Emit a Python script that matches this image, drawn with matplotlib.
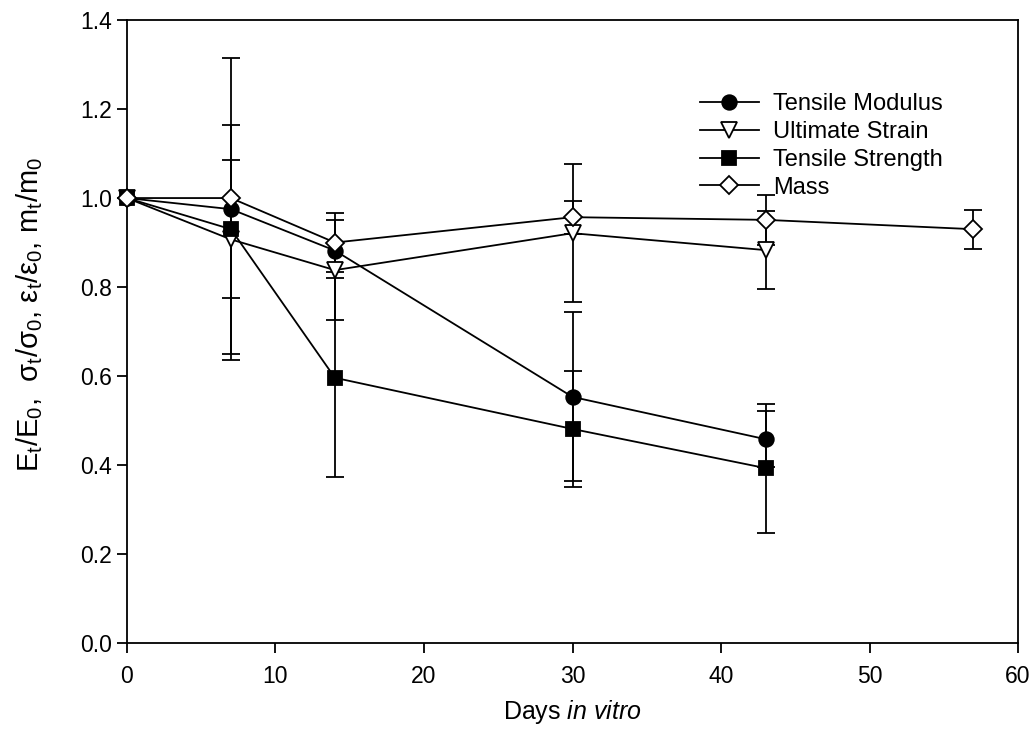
import numpy as np
import matplotlib
matplotlib.use('Agg')
import matplotlib.pyplot as plt

plt.rcParams['font.family'] = ['Liberation Sans', 'DejaVu Sans']
plt.rcParams['mathtext.fontset'] = 'custom'
plt.rcParams['mathtext.rm'] = 'Liberation Sans'
plt.rcParams['mathtext.it'] = 'Liberation Sans:italic'
plt.rcParams['mathtext.default'] = 'regular'

# data
days = [0, 7, 14, 30, 43]
days_mass = [0, 7, 14, 30, 43, 57]

modulus = [1.0, 0.975, 0.882, 0.553, 0.458]
modulus_err = [0.0, 0.34, 0.0, 0.19, 0.063]

strain = [1.0, 0.907, 0.838, 0.921, 0.883]
strain_err = [0.0, 0.257, 0.112, 0.155, 0.087]

strength = [1.0, 0.93, 0.596, 0.481, 0.393]
strength_err = [0.0, 0.155, 0.224, 0.13, 0.145]

mass = [1.0, 1.0, 0.90, 0.957, 0.951, 0.930]
mass_err = [0.0, 0.0, 0.067, 0.037, 0.056, 0.044]

fig = plt.figure(figsize=(10.35, 7.44), dpi=100)
ax = fig.add_axes([0.1227, 0.1358, 0.8609, 0.8372])

series = [
    (days, modulus, modulus_err, 'o', 10.5, 'black', 'Tensile Modulus'),
    (days, strain, strain_err, 'v', 11, 'white', 'Ultimate Strain'),
    (days, strength, strength_err, 's', 10, 'black', 'Tensile Strength'),
    (days_mass, mass, mass_err, 'D', 9.5, 'white', 'Mass'),
]

handles = []
for i, (x, y, e, m, ms, fc, lab) in enumerate(series):
    x = np.array(x)
    y = np.array(y)
    e = np.array(e)
    k = e > 0
    ax.errorbar(x[k], y[k], yerr=e[k], fmt='none', ecolor='black',
                elinewidth=1.3, capsize=6.5, capthick=1.3, zorder=2)
    h, = ax.plot(x, y, color='black', lw=1.3, marker=m, ms=ms, mfc=fc,
                 mec='black', mew=1.3, label=lab, zorder=3 + i, clip_on=False)
    handles.append(h)

ax.set_xlim(0, 60)
ax.set_ylim(0, 1.4)
ax.set_xticks(np.arange(0, 61, 10))
ax.set_yticks(np.arange(0, 1.41, 0.2))
ax.set_yticklabels(['%.1f' % v for v in np.arange(0, 1.41, 0.2)])
ax.tick_params(direction='out', length=7, width=1.3, labelsize=16.5, pad=4)
ax.tick_params(axis='x', pad=9)
for s in ax.spines.values():
    s.set_linewidth(1.3)

ax.set_xlabel('Days $\\it{in\\ vitro}$', fontsize=18, labelpad=7)
ax.set_ylabel('E$_t$/E$_0$,  σ$_t$/σ$_0$, ε$_t$/ε$_0$, m$_t$/m$_0$',
              fontsize=21)
ax.yaxis.set_label_coords(-0.092, 0.527)

ax.legend(handles=handles, loc='upper left', bbox_to_anchor=(0.643, 0.883),
          frameon=False, fontsize=17, handlelength=2.5, labelspacing=0.25,
          handletextpad=0.6, borderpad=0, borderaxespad=0)

fig.savefig('out.png', dpi=100)
